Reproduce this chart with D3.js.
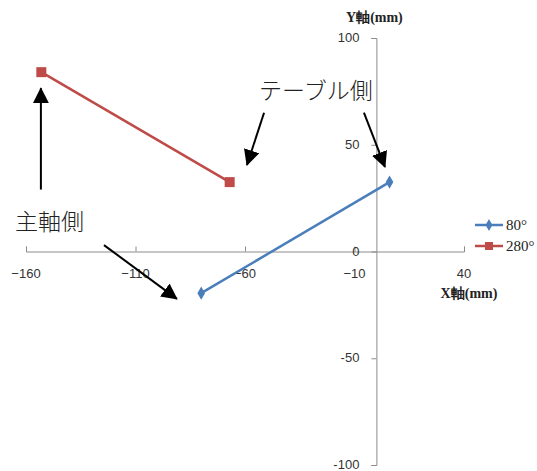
<!DOCTYPE html>
<html><head><meta charset="utf-8">
<script src="https://cdn.jsdelivr.net/npm/d3@7"></script>
<style>body{margin:0;background:#fff}svg{display:block}</style>
</head><body>
<svg id="c" width="537" height="471"></svg>
<script>
const xTicks = [-160, -110, -60, -10, 40];
const yTicks = [-100, -50, 0, 50, 100];
const seriesNames = ["80°", "280°"];
const s80 = [[-80, -19.5], [6, 32.5]];
const s280 = [[-153, 84], [-67, 32.5]];
const annotations = [
  {text: "テーブル側", x: -53.6, y: 71.5},
  {text: "主軸側", x: -165, y: 10}
];
const arrows = [
  [[-153.2, 29], [-153.2, 76.5]],
  [[-51.3, 65], [-59.1, 40.5]],
  [[-5.7, 65], [3.9, 39.6]],
  [[-124.4, 3], [-91.1, -22.2]]
];

const svg = d3.select("#c");
const x = d3.scaleLinear().domain([-160, 40]).range([26, 464]);
const y = d3.scaleLinear().domain([-100, 100]).range([465, 38]);
const colors = ["#4a7ebb", "#be4b48"];
const axisColor = "#8c8c8c";

// X axis at y=0
const gx = svg.append("g").attr("transform", `translate(0,${y(0)})`);
gx.call(d3.axisTop(x).tickValues(xTicks).tickSize(5).tickFormat(""));
gx.select(".domain").attr("stroke", axisColor);
gx.selectAll(".tick line").attr("stroke", axisColor);
svg.append("g").selectAll("text").data(xTicks).join("text")
  .attr("x", d => x(d)).attr("y", y(0) + 26)
  .attr("text-anchor", "middle")
  .attr("font-family", "Liberation Sans, Arial, sans-serif").attr("font-size", 13).attr("fill", "#333")
  .text(d => d < 0 ? "−" + Math.abs(d) : d);

// Y axis at x=0
const gy = svg.append("g").attr("transform", `translate(${x(0)},0)`);
gy.call(d3.axisLeft(y).tickValues(yTicks).tickSize(5).tickFormat(""));
gy.select(".domain").attr("stroke", axisColor);
gy.selectAll(".tick line").attr("stroke", axisColor);
svg.append("g").selectAll("text").data(yTicks).join("text")
  .attr("x", x(0) - 17).attr("y", d => y(d) + 4)
  .attr("text-anchor", "end")
  .attr("font-family", "Liberation Sans, Arial, sans-serif").attr("font-size", 13).attr("fill", "#333")
  .text(d => d);

// axis titles
svg.append("text").attr("x", x(0) - 2).attr("y", 22).attr("text-anchor", "middle")
  .attr("font-family", "Liberation Serif, serif").attr("font-weight", "bold").attr("font-size", 14).attr("fill", "#222")
  .text("Y軸(mm)");
svg.append("text").attr("x", 469).attr("y", 298).attr("text-anchor", "middle")
  .attr("font-family", "Liberation Serif, serif").attr("font-weight", "bold").attr("font-size", 14).attr("fill", "#222")
  .text("X軸(mm)");

// series
const line = d3.line().x(d => x(d[0])).y(d => y(d[1]));
[s80, s280].forEach((s, i) => {
  svg.append("path").datum(s).attr("d", line).attr("fill", "none")
    .attr("stroke", colors[i]).attr("stroke-width", 2.5);
});
svg.append("g").selectAll("path").data(s80).join("path")
  .attr("transform", d => `translate(${x(d[0])},${y(d[1])})`)
  .attr("d", d3.symbol(d3.symbolDiamond, 50)).attr("fill", colors[0]);
svg.append("g").selectAll("rect").data(s280).join("rect")
  .attr("x", d => x(d[0]) - 5).attr("y", d => y(d[1]) - 5)
  .attr("width", 10).attr("height", 10).attr("fill", colors[1]);

// legend
const lg = svg.append("g");
seriesNames.forEach((n, i) => {
  const ly = 225 + i * 21;
  lg.append("line").attr("x1", 475).attr("x2", 503).attr("y1", ly).attr("y2", ly)
    .attr("stroke", colors[i]).attr("stroke-width", 2.5);
  if (i === 0) lg.append("path").attr("transform", `translate(489,${ly})`)
    .attr("d", d3.symbol(d3.symbolDiamond, 40)).attr("fill", colors[0]);
  else lg.append("rect").attr("x", 485).attr("y", ly - 4).attr("width", 8).attr("height", 8).attr("fill", colors[1]);
  lg.append("text").attr("x", 506).attr("y", ly + 5)
    .attr("font-family", "Liberation Serif, serif").attr("font-size", 15).attr("fill", "#222").text(n);
});

// arrows
const defs = svg.append("defs");
defs.append("marker").attr("id", "ah").attr("markerUnits", "userSpaceOnUse")
  .attr("viewBox", "0 0 16 16").attr("refX", 15).attr("refY", 8)
  .attr("markerWidth", 16).attr("markerHeight", 16).attr("orient", "auto")
  .append("path").attr("d", "M0,0 L16,8 L0,16 Z").attr("fill", "#000");
svg.append("g").selectAll("line").data(arrows).join("line")
  .attr("x1", d => x(d[0][0])).attr("y1", d => y(d[0][1]))
  .attr("x2", d => x(d[1][0])).attr("y2", d => y(d[1][1]))
  .attr("stroke", "#000").attr("stroke-width", 2).attr("marker-end", "url(#ah)");

// annotations
svg.append("g").selectAll("text").data(annotations).join("text")
  .attr("x", d => x(d.x)).attr("y", d => y(d.y))
  .attr("font-family", "Noto Sans CJK JP, sans-serif").attr("font-weight", 300).attr("font-size", 23).attr("fill", "#222")
  .text(d => d.text);
</script>
</body></html>
